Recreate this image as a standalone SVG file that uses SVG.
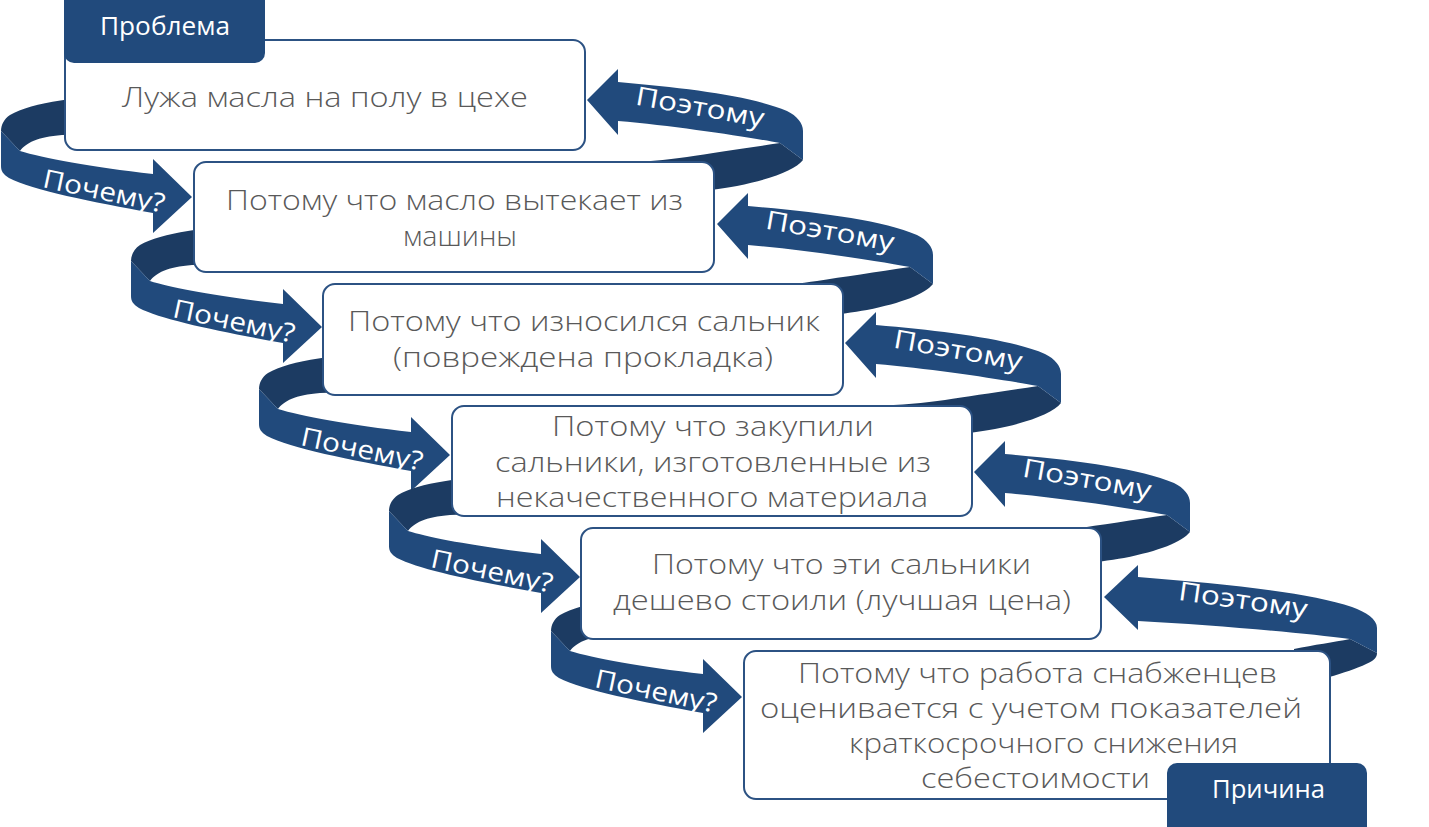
<svg xmlns="http://www.w3.org/2000/svg" width="1429" height="827" viewBox="0 0 1429 827">
<defs>
<style>
.bk{fill:#1c3b62}
.fr{fill:#214a7c}
.box{fill:#fff;stroke:#2c5283;stroke-width:2}
.tab{fill:#214a7c}
.t{font-family:"Open Sans","Liberation Sans",sans-serif;font-weight:300;font-size:28px;fill:#595959}
.lbl{font-family:"Open Sans","Liberation Sans",sans-serif;font-size:26px;fill:#fff;text-anchor:middle}
.tabt{font-family:"Open Sans","Liberation Sans",sans-serif;font-size:25px;fill:#fff}
</style>
<g id="why">
<path class="bk" d="M -60 -102 C -110 -101 -160 -95 -182 -82 C -188 -78 -191 -72 -191 -66 L -172 -46 C -166 -54 -155 -60 -130 -62 C -110 -63 -80 -63 -60 -63 Z"/>
<path class="fr" d="M -191 -66 L -172 -46 C -150 -39 -100 -30 -39 -23 L -39 -38 L 0 0 L -39 36 L -39 16 C -100 5 -160 -7 -183 -19 C -189 -23 -191 -26 -191 -31 Z"/>
</g>
<g id="so">
<path class="bk" d="M 216 60 L 193 43 C 160 48 125 53 100 57 C 80 60 55 62 30 63 L 30 100 C 70 97 120 91 150 86 C 185 79 208 70 216 60 Z"/>
<path class="fr" d="M 0 0 L 31 -31 L 31 -18 C 100 -12 165 -4 200 11 C 210 16 216 23 216 31 L 216 60 L 193 43 C 160 37 90 26 31 21 L 31 35 Z"/>
</g>
</defs>

<g id="connectors">
  <use href="#why" transform="translate(192,197)"/>
  <use href="#why" transform="translate(322,327)"/>
  <use href="#why" transform="translate(450,455)"/>
  <use href="#why" transform="translate(580,577)"/>
  <use href="#why" transform="translate(742,697)"/>
  <use href="#so" transform="translate(587,100)"/>
  <use href="#so" transform="translate(717,224)"/>
  <use href="#so" transform="translate(845,343)"/>
  <use href="#so" transform="translate(974,472)"/>
  <g transform="translate(1104,597)">
    <path class="bk" d="M 273 56 L 246 42 C 230 45 210 48 190 52 L 190 90 C 220 82 255 72 268 64 C 272 61 273 59 273 56 Z"/>
    <path class="fr" d="M 0 0 L 34 -32 L 34 -20 C 120 -13 205 -5 248 10 C 262 15 273 22 273 31 L 273 56 L 246 42 C 200 36 110 28 34 24 L 34 33 Z"/>
  </g>
  <g class="lbl">
    <text transform="translate(104,191) rotate(12)" y="9" textLength="124" lengthAdjust="spacingAndGlyphs">Почему?</text>
    <text transform="translate(234,321) rotate(12)" y="9" textLength="124" lengthAdjust="spacingAndGlyphs">Почему?</text>
    <text transform="translate(362,449) rotate(12)" y="9" textLength="124" lengthAdjust="spacingAndGlyphs">Почему?</text>
    <text transform="translate(492,571) rotate(12)" y="9" textLength="124" lengthAdjust="spacingAndGlyphs">Почему?</text>
    <text transform="translate(656,691) rotate(12)" y="9" textLength="124" lengthAdjust="spacingAndGlyphs">Почему?</text>
    <text transform="translate(700,107) rotate(10)" y="9" textLength="130" lengthAdjust="spacingAndGlyphs">Поэтому</text>
    <text transform="translate(830,231) rotate(10)" y="9" textLength="130" lengthAdjust="spacingAndGlyphs">Поэтому</text>
    <text transform="translate(958,350) rotate(10)" y="9" textLength="130" lengthAdjust="spacingAndGlyphs">Поэтому</text>
    <text transform="translate(1087,479) rotate(10)" y="9" textLength="130" lengthAdjust="spacingAndGlyphs">Поэтому</text>
    <text transform="translate(1243,600) rotate(8)" y="9" textLength="130" lengthAdjust="spacingAndGlyphs">Поэтому</text>
  </g>
</g>

<g id="node1">
  <rect class="box" x="65" y="40" width="520" height="110" rx="12"/>
  <text class="t" x="122" y="107" textLength="406" lengthAdjust="spacingAndGlyphs">Лужа масла на полу в цехе</text>
</g>
<g id="tab-problem">
  <rect class="tab" x="64" y="-12" width="201" height="75" rx="10"/>
  <text class="tabt" x="100" y="35" textLength="130" lengthAdjust="spacingAndGlyphs">Проблема</text>
</g>
<g id="node2">
  <rect class="box" x="194" y="162" width="520" height="110" rx="12"/>
  <text class="t" x="226" y="210" textLength="457" lengthAdjust="spacingAndGlyphs">Потому что масло вытекает из</text>
  <text class="t" x="403" y="246" textLength="114" lengthAdjust="spacingAndGlyphs">машины</text>
</g>
<g id="node3">
  <rect class="box" x="323" y="284" width="520" height="111" rx="12"/>
  <text class="t" x="348" y="331" textLength="472" lengthAdjust="spacingAndGlyphs">Потому что износился сальник</text>
  <text class="t" x="393" y="367" textLength="380" lengthAdjust="spacingAndGlyphs">(повреждена прокладка)</text>
</g>
<g id="node4">
  <rect class="box" x="452" y="406" width="520" height="110" rx="12"/>
  <text class="t" x="552" y="436" textLength="322" lengthAdjust="spacingAndGlyphs">Потому что закупили</text>
  <text class="t" x="495" y="472" textLength="436" lengthAdjust="spacingAndGlyphs">сальники, изготовленные из</text>
  <text class="t" x="496" y="507" textLength="432" lengthAdjust="spacingAndGlyphs">некачественного материала</text>
</g>
<g id="node5">
  <rect class="box" x="581" y="528" width="520" height="111" rx="12"/>
  <text class="t" x="652" y="574" textLength="379" lengthAdjust="spacingAndGlyphs">Потому что эти сальники</text>
  <text class="t" x="613" y="610" textLength="458" lengthAdjust="spacingAndGlyphs">дешево стоили (лучшая цена)</text>
</g>
<g id="node6">
  <rect class="box" x="744" y="651" width="586" height="148" rx="12"/>
  <text class="t" x="798" y="683" textLength="479" lengthAdjust="spacingAndGlyphs">Потому что работа снабженцев</text>
  <text class="t" x="760" y="718" textLength="542" lengthAdjust="spacingAndGlyphs">оценивается с учетом показателей</text>
  <text class="t" x="849" y="753" textLength="389" lengthAdjust="spacingAndGlyphs">краткосрочного снижения</text>
  <text class="t" x="921" y="788" textLength="229" lengthAdjust="spacingAndGlyphs">себестоимости</text>
</g>
<g id="tab-cause">
  <rect class="tab" x="1167" y="763" width="200" height="76" rx="10"/>
  <text class="tabt" x="1212" y="798" textLength="113" lengthAdjust="spacingAndGlyphs">Причина</text>
</g>
</svg>
